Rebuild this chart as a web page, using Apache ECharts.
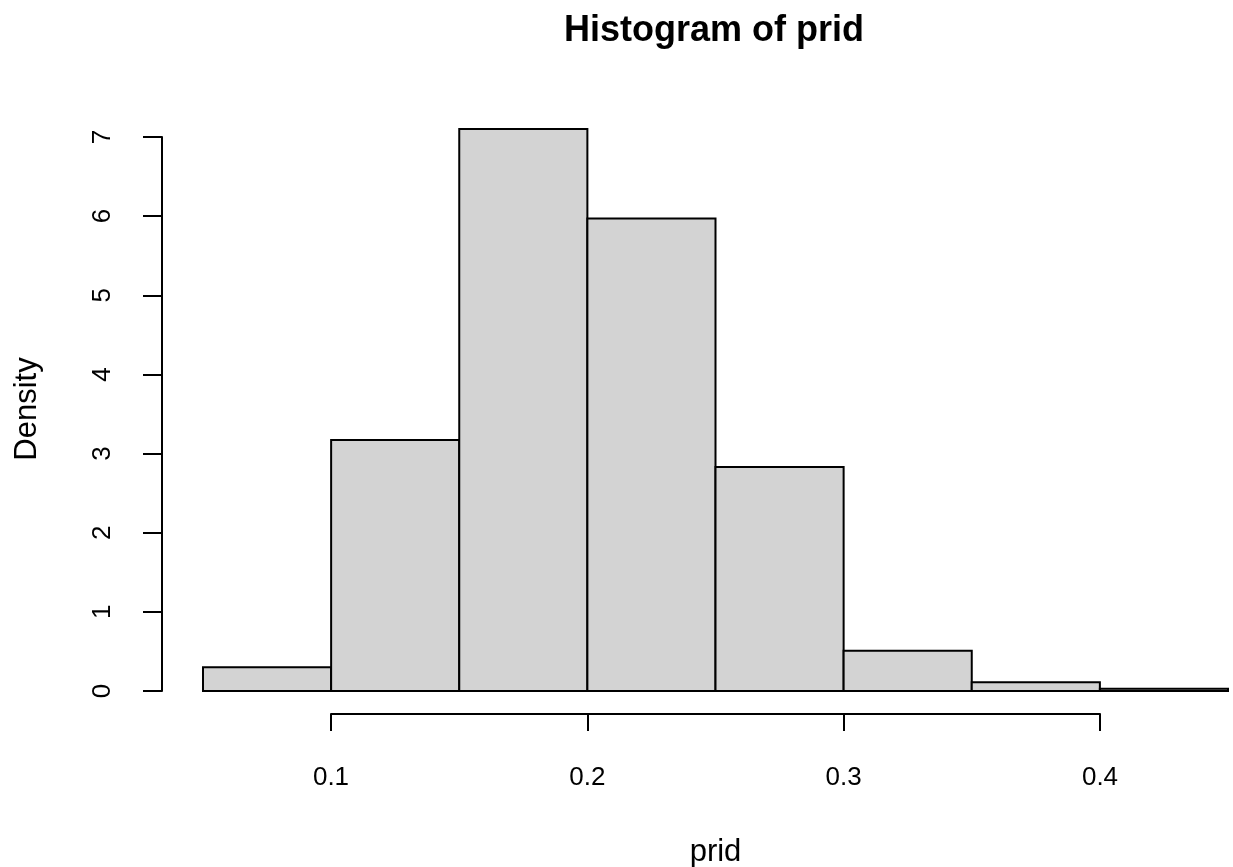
<!DOCTYPE html>
<html lang="en">

<head>
  <meta charset="UTF-8">
  <title>Histogram of prid</title>
  <script src="https://cdn.jsdelivr.net/npm/echarts@6/dist/echarts.min.js"></script>
</head>

<body style="margin: 0">
  <div id="main" style="width: 1233px; height: 867px"></div>

  <script>
    // bins of the histogram (left / right edge) and their density
    let binStart = [0.05, 0.10, 0.15, 0.20, 0.25, 0.30, 0.35, 0.40]
    let binEnd = [0.10, 0.15, 0.20, 0.25, 0.30, 0.35, 0.40, 0.45]
    let density = [0.30, 3.17, 7.10, 5.97, 2.83, 0.51, 0.11, 0.03]
    let xTicks = [0.1, 0.2, 0.3, 0.4]
    let yTicks = [0, 1, 2, 3, 4, 5, 6, 7]

    let font = 'Liberation Sans, Arial, sans-serif'
    let myChart = echarts.init(document.getElementById('main'))

    let option = {
      backgroundColor: '#fff',
      animation: false,
      title: {
        text: 'Histogram of prid',
        left: 559,
        top: 8,
        textStyle: { fontFamily: font, fontSize: 36, fontWeight: 'bold', color: '#000' }
      },
      // y axis title, rotated like in R
      graphic: [{
        type: 'text',
        x: 27,
        y: 409,
        rotation: Math.PI / 2,
        style: {
          text: 'Density',
          fontFamily: font,
          fontSize: 31,
          fill: '#000',
          align: 'center',
          verticalAlign: 'middle'
        }
      }],
      grid: [
        // plot area for the bars
        { left: 203, right: 5, top: 137, bottom: 176, outerBoundsMode: 'none' },
        // only for the x axis, which runs from 0.1 to 0.4 like in R
        { left: 331, right: 133, top: 137, bottom: 153, outerBoundsMode: 'none' }
      ],
      xAxis: [{
          type: 'value',
          gridIndex: 0,
          min: binStart[0],
          max: binEnd[binEnd.length - 1],
          show: false
        },
        {
          type: 'value',
          gridIndex: 1,
          min: xTicks[0],
          max: xTicks[xTicks.length - 1],
          interval: 0.1,
          name: 'prid',
          nameLocation: 'middle',
          nameGap: 123,
          nameTextStyle: { fontFamily: font, fontSize: 31, color: '#000' },
          axisLine: { show: true, lineStyle: { color: '#000', width: 2 } },
          axisTick: { show: true, length: 17, lineStyle: { color: '#000', width: 2 } },
          axisLabel: {
            margin: 51,
            fontFamily: font,
            fontSize: 26,
            color: '#000',
            formatter: v => v.toFixed(1)
          },
          splitLine: { show: false }
        }
      ],
      yAxis: [{
          type: 'value',
          gridIndex: 0,
          min: yTicks[0],
          max: yTicks[yTicks.length - 1],
          interval: 1,
          offset: 41,
          axisLine: { show: true, lineStyle: { color: '#000', width: 2 } },
          axisTick: { show: true, length: 19, lineStyle: { color: '#000', width: 2 } },
          axisLabel: {
            rotate: 90,
            margin: 46,
            fontFamily: font,
            fontSize: 26,
            color: '#000'
          },
          splitLine: { show: false }
        },
        {
          type: 'value',
          gridIndex: 1,
          show: false
        }
      ],
      series: [{
        type: 'custom',
        xAxisIndex: 0,
        yAxisIndex: 0,
        clip: false,
        data: density.map((d, i) => [binStart[i], binEnd[i], d]),
        renderItem: function (params, api) {
          let p0 = api.coord([api.value(0), api.value(2)])
          let p1 = api.coord([api.value(1), 0])
          return {
            type: 'rect',
            shape: { x: p0[0], y: p0[1], width: p1[0] - p0[0], height: p1[1] - p0[1] },
            style: { fill: '#d3d3d3', stroke: '#000', lineWidth: 2 }
          }
        }
      }]
    }
    myChart.setOption(option)
  </script>
</body>

</html>
